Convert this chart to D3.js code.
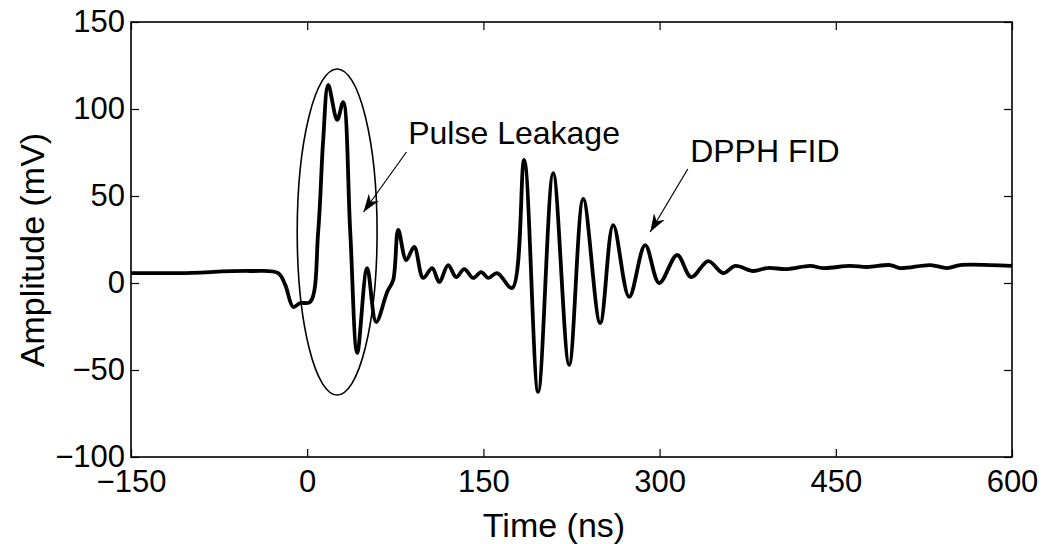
<!DOCTYPE html>
<html>
<head>
<meta charset="utf-8">
<script src="https://cdn.jsdelivr.net/npm/d3@7"></script>
<style>
  body { margin: 0; background: #fff; }
  text { font-family: "Liberation Sans", Arial, Helvetica, sans-serif; fill: #000; }
</style>
</head>
<body>
<svg id="chart" width="1042" height="544"></svg>
<script>
// time (ns) and amplitude (mV)
var time = [-150, -108, -48.5, -24.7, -18.7, -11.9, -6, 2.6, 9.4, 13.6, 17.9, 25.5, 30.6, 36.6, 42.6,
            51, 58.7, 68.1, 73.2, 77.5, 84.3, 91.1, 98.7, 106.4, 112.4, 120, 126.8, 133.7, 141.3,
            148.1, 154.1, 161.7, 174.5, 184.7, 196.6, 209.4, 223, 235, 249.4, 260.5, 274.1, 287.7,
            299.7, 315, 326.9, 341.4, 354.1, 364.4, 379.7, 391.6, 408.6, 428.2, 439.3, 462.2, 476.7,
            496.3, 504.8, 530.4, 544.8, 555.9, 581.4, 600];
var amp = [5.7, 5.7, 6.9, 5.7, -1.1, -13.8, -11.5, -10.9, 30, 82, 113.8, 93.7, 104, 30, -40.2,
           8.6, -22.4, -5.2, 1.7, 30.5, 13.2, 20.7, 2.9, 8.6, 0.6, 10.3, 3.4, 8, 2.9,
           6.3, 2.9, 5.7, -2.9, 70.7, -62.6, 63.2, -47.1, 48.3, -23, 33.3, -8, 21.8,
           0, 16.1, 3.4, 12.6, 5.7, 9.8, 6.9, 8.6, 8, 9.8, 8.6, 9.8, 9.2,
           10.3, 8.6, 10.3, 8.6, 10.3, 10.3, 9.8];

var xTicks = [-150, 0, 150, 300, 450, 600];
var yTicks = [-100, -50, 0, 50, 100, 150];

// ellipse around the leakage: centre, half width (ns), half height (mV)
var ellipse = {t: 25.5, v: 29.3, rt: 34, rv: 93.7};

var notes = [
  {label: "Pulse Leakage", tx: 86, ty: 80, from: [84.5, 75.3], to: [47.9, 40.8]},
  {label: "DPPH FID", tx: 326, ty: 69.5, from: [324, 65.5], to: [292, 29.3]}
];

var svg = d3.select("#chart");
var W = +svg.attr("width"), H = +svg.attr("height");
var margin = {left: 131, right: W - 1012, top: 22, bottom: H - 457};
var width = W - margin.left - margin.right,
    height = H - margin.top - margin.bottom;

var x = d3.scaleLinear().domain([-150, 600]).range([0, width]);
var y = d3.scaleLinear().domain([-100, 150]).range([height, 0]);

var g = svg.append("g").attr("transform", "translate(" + margin.left + "," + margin.top + ")");

function styleAxis(sel) {
  sel.select(".domain").remove();
  sel.selectAll("line").attr("stroke", "#000").attr("stroke-width", 1.2);
  sel.selectAll("text").attr("font-size", "31px").attr("fill", "#000")
     .style("font-family", "'Liberation Sans', Arial, sans-serif");
}

g.append("g").attr("transform", "translate(0," + height + ")")
  .call(d3.axisBottom(x).tickValues(xTicks).tickSizeInner(-8).tickSizeOuter(0).tickPadding(13))
  .call(styleAxis);
g.append("g")
  .call(d3.axisTop(x).tickValues(xTicks).tickSizeInner(-8).tickSizeOuter(0).tickFormat(""))
  .call(styleAxis);
g.append("g")
  .call(d3.axisLeft(y).tickValues(yTicks).tickSizeInner(-8).tickSizeOuter(0).tickPadding(6))
  .call(styleAxis);
g.append("g").attr("transform", "translate(" + width + ",0)")
  .call(d3.axisRight(y).tickValues(yTicks).tickSizeInner(-8).tickSizeOuter(0).tickFormat(""))
  .call(styleAxis);

g.append("rect")
  .attr("width", width).attr("height", height)
  .attr("fill", "none").attr("stroke", "#000").attr("stroke-width", 1.6);

var data = time.map(function(t, i) { return [t, amp[i]]; });
var line = d3.line()
  .x(function(d) { return x(d[0]); })
  .y(function(d) { return y(d[1]); })
  .curve(d3.curveCatmullRom.alpha(0.5));

g.append("path").datum(data)
  .attr("d", line)
  .attr("fill", "none").attr("stroke", "#000")
  .attr("stroke-width", 3.8).attr("stroke-linejoin", "round");

g.append("ellipse")
  .attr("cx", x(ellipse.t)).attr("cy", y(ellipse.v))
  .attr("rx", x(ellipse.t + ellipse.rt) - x(ellipse.t))
  .attr("ry", y(ellipse.v - ellipse.rv) - y(ellipse.v))
  .attr("fill", "none").attr("stroke", "#000").attr("stroke-width", 1.6);

svg.append("defs").append("marker")
  .attr("id", "head").attr("viewBox", "0 0 10 10")
  .attr("refX", 10).attr("refY", 5)
  .attr("markerWidth", 18).attr("markerHeight", 18)
  .attr("markerUnits", "userSpaceOnUse")
  .attr("orient", "auto")
  .append("path").attr("d", "M0,1.5 L10,5 L0,8.5 L3,5 Z").attr("fill", "#000");

notes.forEach(function(n) {
  g.append("line")
    .attr("x1", x(n.from[0])).attr("y1", y(n.from[1]))
    .attr("x2", x(n.to[0])).attr("y2", y(n.to[1]))
    .attr("stroke", "#000").attr("stroke-width", 1.2)
    .attr("marker-end", "url(#head)");
  g.append("text")
    .attr("x", x(n.tx)).attr("y", y(n.ty))
    .attr("font-size", "32px")
    .text(n.label);
});

svg.append("text")
  .attr("x", 554).attr("y", 537)
  .attr("text-anchor", "middle").attr("font-size", "34px")
  .text("Time (ns)");

svg.append("text")
  .attr("transform", "translate(44,250) rotate(-90)")
  .attr("text-anchor", "middle").attr("font-size", "34px")
  .text("Amplitude (mV)");
</script>
</body>
</html>
